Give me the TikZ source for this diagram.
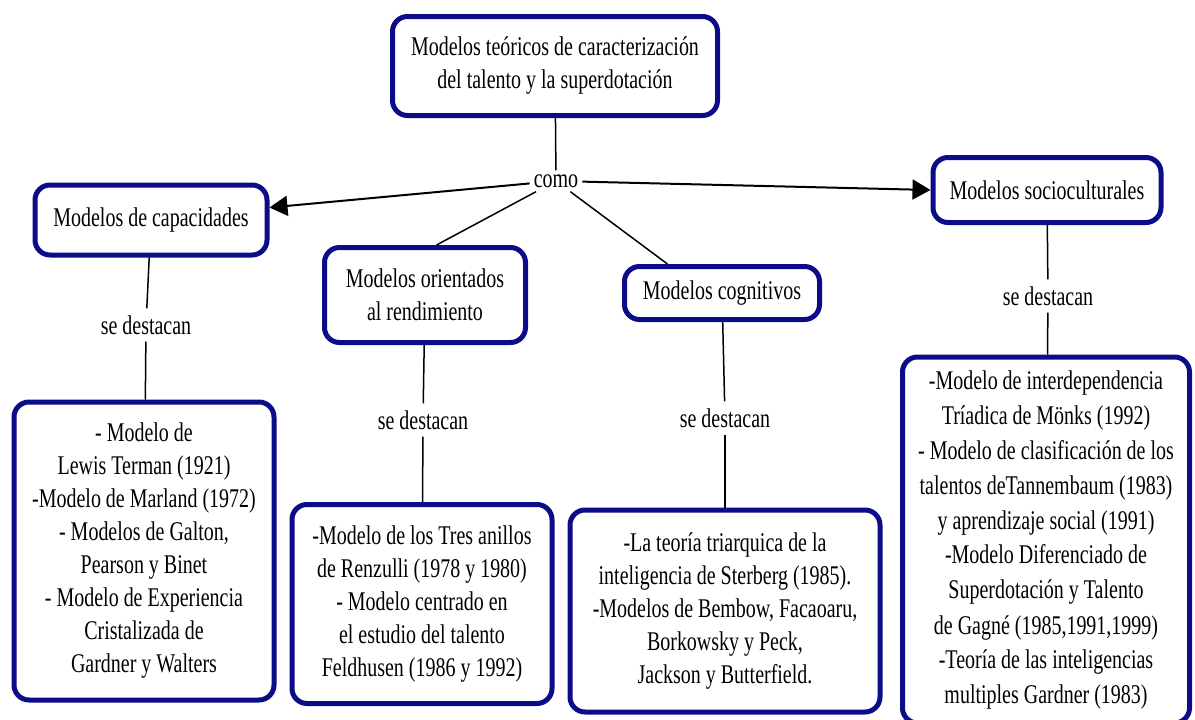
\documentclass[tikz,border=0pt]{standalone}
\usepackage{fontspec}
\setmainfont{Liberation Serif}[FakeStretch=0.74]
\usetikzlibrary{arrows.meta}
\definecolor{azul}{RGB}{12,12,136}
\begin{document}
\begin{tikzpicture}[x=1pt, y=-1pt, font=\fontsize{27}{33}\selectfont,
  caja/.style={draw=azul, line width=5pt, rounded corners=15pt, align=center, inner sep=2pt, fill=white},
  enlace/.style={line width=1.5pt},
  flecha/.style={line width=2pt, -{Triangle[length=18pt,width=20pt]}},
  nota/.style={inner sep=7pt}] %{,}
\useasboundingbox (0,0) rectangle (1195,720);
\node[caja, minimum width=325, minimum height=99] (N_0_0) at (555,66) {Modelos teóricos de caracterización\\del talento y la superdotación};
\node[inner sep=4pt] (N_1_0) at (556,181) {como};
\draw[enlace] (N_0_0) -- (N_1_0);
\node[caja, minimum width=232, minimum height=70] (N_2_0) at (151,220) {Modelos de capacidades};
\draw[flecha] (N_1_0) -- (N_2_0.6);
\node[caja, minimum width=201, minimum height=95] (N_2_1) at (425,295) {Modelos orientados\\al rendimiento};
\draw[enlace] (N_1_0) -- (N_2_1.77);
\node[caja, minimum width=195, minimum height=53] (N_2_2) at (722,293) {Modelos cognitivos};
\draw[enlace] (N_1_0) -- (N_2_2.152);
\node[caja, minimum width=228, minimum height=65] (N_2_3) at (1047,190) {Modelos socioculturales};
\draw[flecha] (N_1_0) -- (N_2_3.west);
\node[nota] (D_3_0) at (146,325) {se destacan};
\draw[enlace] (N_2_0) -- (D_3_0);
\node[nota] (D_3_1) at (423,420) {se destacan};
\draw[enlace] (N_2_1) -- (D_3_1);
\node[nota] (D_3_2) at (725,418) {se destacan};
\draw[enlace] (N_2_2) -- (D_3_2);
\node[nota] (D_3_3) at (1048,296) {se destacan};
\draw[enlace] (N_2_3) -- (D_3_3);
\node[caja, minimum width=260, minimum height=298] (L_4_0) at (144,551) {- Modelo de\\Lewis Terman (1921)\\-Modelo de Marland (1972)\\- Modelos de Galton,\\Pearson y Binet\\- Modelo de Experiencia\\Cristalizada de\\Gardner y Walters};
\draw[enlace] (D_3_0) -- (L_4_0);
\node[caja, minimum width=260, minimum height=199] (L_4_1) at (422,604) {-Modelo de los Tres anillos\\de Renzulli (1978 y 1980)\\- Modelo centrado en\\el estudio del talento\\Feldhusen (1986 y 1992)};
\draw[enlace] (D_3_1) -- (L_4_1);
\node[caja, minimum width=310, minimum height=202] (L_4_2) at (725,611) {-La teoría triarquica de la\\inteligencia de Sterberg (1985).\\-Modelos de Bembow, Facaoaru,\\Borkowsky y Peck,\\Jackson y Butterfield.};
\draw[enlace] (D_3_2) -- (L_4_2);
\node[caja, minimum width=287, minimum height=366, font=\fontsize{27}{35}\selectfont] (L_4_3) at (1046,540) {-Modelo de interdependencia\\Tríadica de Mönks (1992)\\- Modelo de clasificación de los\\talentos deTannembaum (1983)\\y aprendizaje social (1991)\\-Modelo Diferenciado de\\Superdotación y Talento\\de Gagné (1985,1991,1999)\\-Teoría de las inteligencias\\multiples Gardner (1983)};
\draw[enlace] (D_3_3) -- (L_4_3);
\end{tikzpicture}
\end{document}
